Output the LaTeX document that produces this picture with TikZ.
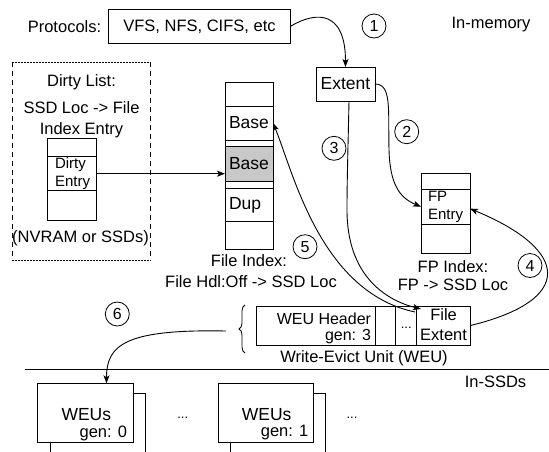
\documentclass[tikz,border=0pt]{standalone}
\usepackage{fontspec}
\setmainfont{Liberation Sans}
\usetikzlibrary{arrows.meta,calc,decorations.pathreplacing}
\definecolor{cellgray}{RGB}{200,200,200}
\begin{document}
\begin{tikzpicture}[x=1pt,y=-1pt,
  every node/.style={inner sep=0pt,outer sep=0pt},
  txt/.style={font=\fontsize{16.5}{20}\selectfont, align=center},
  tight/.style={font=\fontsize{16}{18}\selectfont},
  big/.style={font=\fontsize{17.5}{20}\selectfont},
  small/.style={font=\fontsize{15}{18}\selectfont, align=left},
  dots/.style={font=\fontsize{13}{15}\selectfont},
  box/.style={draw, line width=1pt, fill=white},
  num/.style={draw, circle, line width=0.8pt, minimum size=24pt, font=\fontsize{16}{18}\selectfont},
  arr/.style={line width=0.9pt, -{Stealth[length=8pt,width=6pt,inset=2pt]}},
]
\useasboundingbox (0,0) rectangle (549,451);
\fill[white] (0,0) rectangle (549,451);

% top row
\node[txt] (proto) at (64.5,27) {Protocols:};
\node[box,txt,minimum width=182pt,minimum height=34pt] (vfs) at (199.5,26.3) {VFS, NFS, CIFS, etc};
\node[num] (c1) at (374,26) {1};
\node[txt] (inmem) at (491,25) {In-memory};
\node[box,big,minimum width=59pt,minimum height=34pt] (extent) at (345.5,84) {Extent};

% dirty list container
\node[minimum width=138.5pt,minimum height=198pt] (dirtybox) at (81.25,161) {};
\draw[line width=1pt, dash pattern=on 1.5pt off 1.5pt]
  (dirtybox.north west) -- (dirtybox.north east)
  (dirtybox.south west) -- (dirtybox.south east);
\draw[line width=0.8pt, dash pattern=on 5pt off 4pt]
  (dirtybox.north west) -- (dirtybox.south west)
  (dirtybox.north east) -- (dirtybox.south east);
\node[txt] (dl1) at (81.5,82) {Dirty List:};
\node[txt] (dl2) at (81.5,108) {SSD Loc -> File};
\node[txt] (dl3) at (81.5,130) {Index Entry};
\node[box,minimum width=49pt,minimum height=18.7pt] (d0) at (72,147.35) {};
\node[box,minimum width=49pt,minimum height=34pt] (dentry) at (72,173.7) {};
\node[small,anchor=west] (dentrytxt) at (55,173.7) {Dirty\\Entry};
\node[box,minimum width=49pt,minimum height=29.3pt] (d2) at (72,205.35) {};
\node[txt] (nvram) at (80.5,238) {(NVRAM or SSDs)};

% file index
\node[box,minimum width=48pt,minimum height=24pt] (fi0) at (249,94) {};
\node[box,minimum width=48pt,minimum height=34pt] (fi1) at (249,123) {};
\node[box,minimum width=48pt,minimum height=6.7pt] (fi1b) at (249,143.35) {};
\node[box,fill=cellgray,minimum width=48pt,minimum height=34.3pt] (fi2) at (249,163.85) {};
\node[box,minimum width=48pt,minimum height=7.3pt] (fi2b) at (249,184.65) {};
\node[box,minimum width=48pt,minimum height=33.4pt] (fi3) at (249,205) {};
\node[box,minimum width=48pt,minimum height=27.3pt] (fi4) at (249,235.35) {};
\node[big,anchor=west] (fi1t) at (229,123) {Base};
\node[big,anchor=west] (fi2t) at (229,163.85) {Base};
\node[big,anchor=west] (fi3t) at (229,205) {Dup};
\node[txt] (fil1) at (249,261) {File Index:};
\node[txt] (fil2) at (251,282) {File Hdl:Off -> SSD Loc};

% FP index
\node[box,minimum width=49pt,minimum height=16.3pt] (fp0) at (445.5,181.15) {};
\node[box,minimum width=49pt,minimum height=34.7pt] (fpentry) at (445.5,206.65) {};
\node[small,anchor=west] (fpentrytxt) at (428,206.65) {FP\\Entry};
\node[box,minimum width=49pt,minimum height=29.3pt] (fp2) at (445.5,238.65) {};
\node[txt] (fpl1) at (453,267) {FP Index:};
\node[txt] (fpl2) at (453,285) {FP -> SSD Loc};

% numbers
\node[num] (c2) at (406.7,131.7) {2};
\node[num] (c3) at (334,148.3) {3};
\node[num] (c5) at (305,246.7) {5};
\node[num] (c4) at (530,265.5) {4};
\node[num] (c6) at (117.3,314) {6};

% WEU in memory
\node[box,minimum width=119pt,minimum height=39pt] (hdr) at (316.2,325.5) {};
\node[box,minimum width=20pt,minimum height=39pt] (blank) at (385.7,325.5) {};
\node[box,minimum width=21pt,minimum height=39pt] (dotc) at (406.2,325.5) {};
\node[box,minimum width=53.8pt,minimum height=39pt] (file) at (443.6,325.5) {};
\node[tight,anchor=base east] (hdrt1) at (371,324.5) {WEU Header};
\node[tight,anchor=base east] (hdrt2) at (371,340.5) {gen: 3};
\node[dots] (dott) at (406.2,328) {...};
\node[txt] (filet1) at (443.6,315) {File};
\node[txt] (filet2) at (443.6,335) {Extent};
\draw[line width=0.8pt, decorate, decoration={brace, amplitude=6pt}] (245,353) -- (245,305);
\coordinate (bracetip) at (226,331);
\node[txt] (weul) at (364,358) {Write-Evict Unit (WEU)};

% divider
\coordinate (divl) at (24.5,369);
\coordinate (divr) at (549,369);
\draw[line width=1pt] (divl) -- (divr);
\node[txt] (inssd) at (495.5,382) {In-SSDs};

% WEUs on SSD
\node[box,minimum width=95pt,minimum height=76.7pt] (weu1b) at (97.5,431.65) {};
\node[box,minimum width=96pt,minimum height=59.4pt] (weu1) at (85.3,413) {};
\node[big] (weu1t) at (86.3,415) {WEUs};
\node[txt,anchor=east] (weu1g) at (127,433) {gen: 0};
\node[dots] (dots1) at (182.7,418) {...};
\node[box,minimum width=94.3pt,minimum height=76.7pt] (weu2b) at (277.85,431.65) {};
\node[box,minimum width=95pt,minimum height=59.4pt] (weu2) at (265.8,413) {};
\node[big] (weu2t) at (266.7,415) {WEUs};
\node[txt,anchor=east] (weu2g) at (308.3,433) {gen: 1};
\node[dots] (dots2) at (352,418) {...};

% connectors
\coordinate (a3end) at (421,309);
\coordinate (a5start) at (415,312);
\coordinate (a6end) at (106.5,383.3);
\draw[arr] (vfs.east) .. controls (318,10) and (345.5,12) .. (extent.north);
\draw[arr] (extent.east) .. controls (392,84) and (388,110) .. (389,150)
   .. controls (390,185) and (400,198) .. (fpentry.west);
\draw[arr] ($(extent.south)+(3.5,0)$) .. controls (348,150) and (347,180) .. (347,210)
   .. controls (347,275) and (385,300) .. (a3end);
\draw[arr] (a5start) .. controls (320,292) and (293,171) .. (fi1.east);
\draw[arr] (file.east) .. controls (575,300) and (570,250) .. ($(fpentry.east)+(0,2)$);
\draw[arr] (bracetip) .. controls (125,329) and (106.5,345) .. (a6end);
\draw[arr] (dentry.east) -- (dentry.east -| fi2.west);
\end{tikzpicture}
\end{document}
